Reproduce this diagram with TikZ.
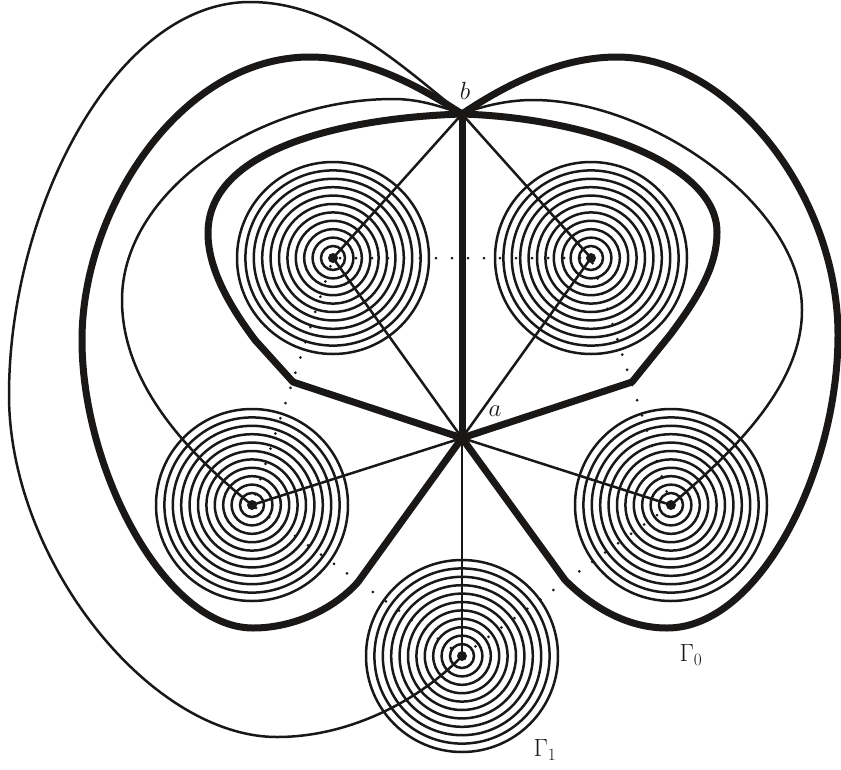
\documentclass[tikz,border=0pt]{standalone}
\usetikzlibrary{calc}
\begin{document}
\begin{tikzpicture}[x=1pt,y=-1pt,
  thick line/.style={line width=7pt,line join=round,line cap=round,color=ink},
  thin line/.style={line width=2.5pt,color=ink},
  ring/.style={line width=2.5pt,color=ink},
  hub/.style={circle,fill=ink,inner sep=0pt,minimum size=10pt},
  apex/.style={circle,fill=ink,inner sep=0pt,minimum size=9pt},
  lab/.style={inner sep=0pt,font=\fontsize{26}{30}\selectfont,color=ink}]
\definecolor{ink}{HTML}{1A1717}
\useasboundingbox (0,0) rectangle (841,769);
\coordinate (ul) at (333,258);
\coordinate (ur) at (591,258);
\coordinate (l) at (252,505);
\coordinate (r) at (671,505);
\coordinate (m) at (462,656);
% dots first, so that the rings cover those lying on them
\foreach \p/\q/\o/\n in {ul/ur/7/15,ur/r/5.5/15,r/m/1.2/16,l/m/5/15,ul/l/8.7/15}{
  \foreach \k in {0,...,\n}{
    \pgfmathsetmacro\d{\o+16*\k}
    \fill[ink] ($(\p)!\d pt!(\q)$) circle[radius=1.5];
  }
}
\foreach \n/\x/\y in {ul/333/258,ur/591/258,l/252/505,r/671/505,m/462/656}{
  \foreach \k in {0,...,10}{\draw[ring] (\x,\y) circle[radius={12+8.4*\k}];}
}
\foreach \n/\x/\y in {ul/333/258,ur/591/258,l/252/505,r/671/505,m/462/656}{
  \node[hub] (h\n) at (\x,\y) {};
}
\node[apex] (a) at (462,438) {};
\node[apex] (b) at (462,114) {};
\foreach \n in {ul,ur,l,r,m}{\draw[thin line] (a.center) -- (h\n.center);}
\foreach \n in {ul,ur}{\draw[thin line] (b.center) -- (h\n.center);}
\draw[thick line] (a.center) -- (b.center);
% inner thick loop
\draw[thick line] (b.center) .. controls (340,118) and (208,150) .. (208,233)
  .. controls (208,265) and (225,300) .. (255,340) -- (293,382) -- (a.center);
\draw[thick line] (b.center) .. controls (590,118) and (717,165) .. (717,232)
  .. controls (717,265) and (700,295) .. (670,335) -- (632,382) -- (a.center);
% outer thick loop
\draw[thick line] (b.center) .. controls (410,80) and (360,57) .. (310,57)
  .. controls (180,57) and (82,210) .. (82,340)
  .. controls (82,470) and (165,628) .. (253,628)
  .. controls (295,628) and (335,608) .. (358,582) -- (a.center);
\draw[thick line] (b.center) .. controls (505,85) and (560,57) .. (617,57)
  .. controls (730,57) and (838,195) .. (838,335)
  .. controls (838,470) and (760,628) .. (667,628)
  .. controls (625,628) and (590,605) .. (565,580) -- (a.center);
% thin curves
\draw[thin line] (b.center) .. controls (400,65) and (335,2) .. (250,2)
  .. controls (115,2) and (9,210) .. (9,395)
  .. controls (9,560) and (150,737) .. (277,737)
  .. controls (350,737) and (420,700) .. (hm.center);
\draw[thin line] (b.center) .. controls (435,104) and (415,99) .. (393,99)
  .. controls (260,99) and (122,190) .. (122,300)
  .. controls (122,385) and (190,455) .. (hl.center);
\draw[thin line] (b.center) .. controls (485,105) and (510,100) .. (533,100)
  .. controls (650,100) and (802,205) .. (802,310)
  .. controls (802,385) and (735,450) .. (hr.center);
\node[lab] (na) at (495,411) {$a$};
\node[lab] (nb) at (465,91) {$b$};
\node[lab] (g0) at (691,655) {$\Gamma_0$};
\node[lab] (g1) at (545,750) {$\Gamma_1$};
\end{tikzpicture}
\end{document}
